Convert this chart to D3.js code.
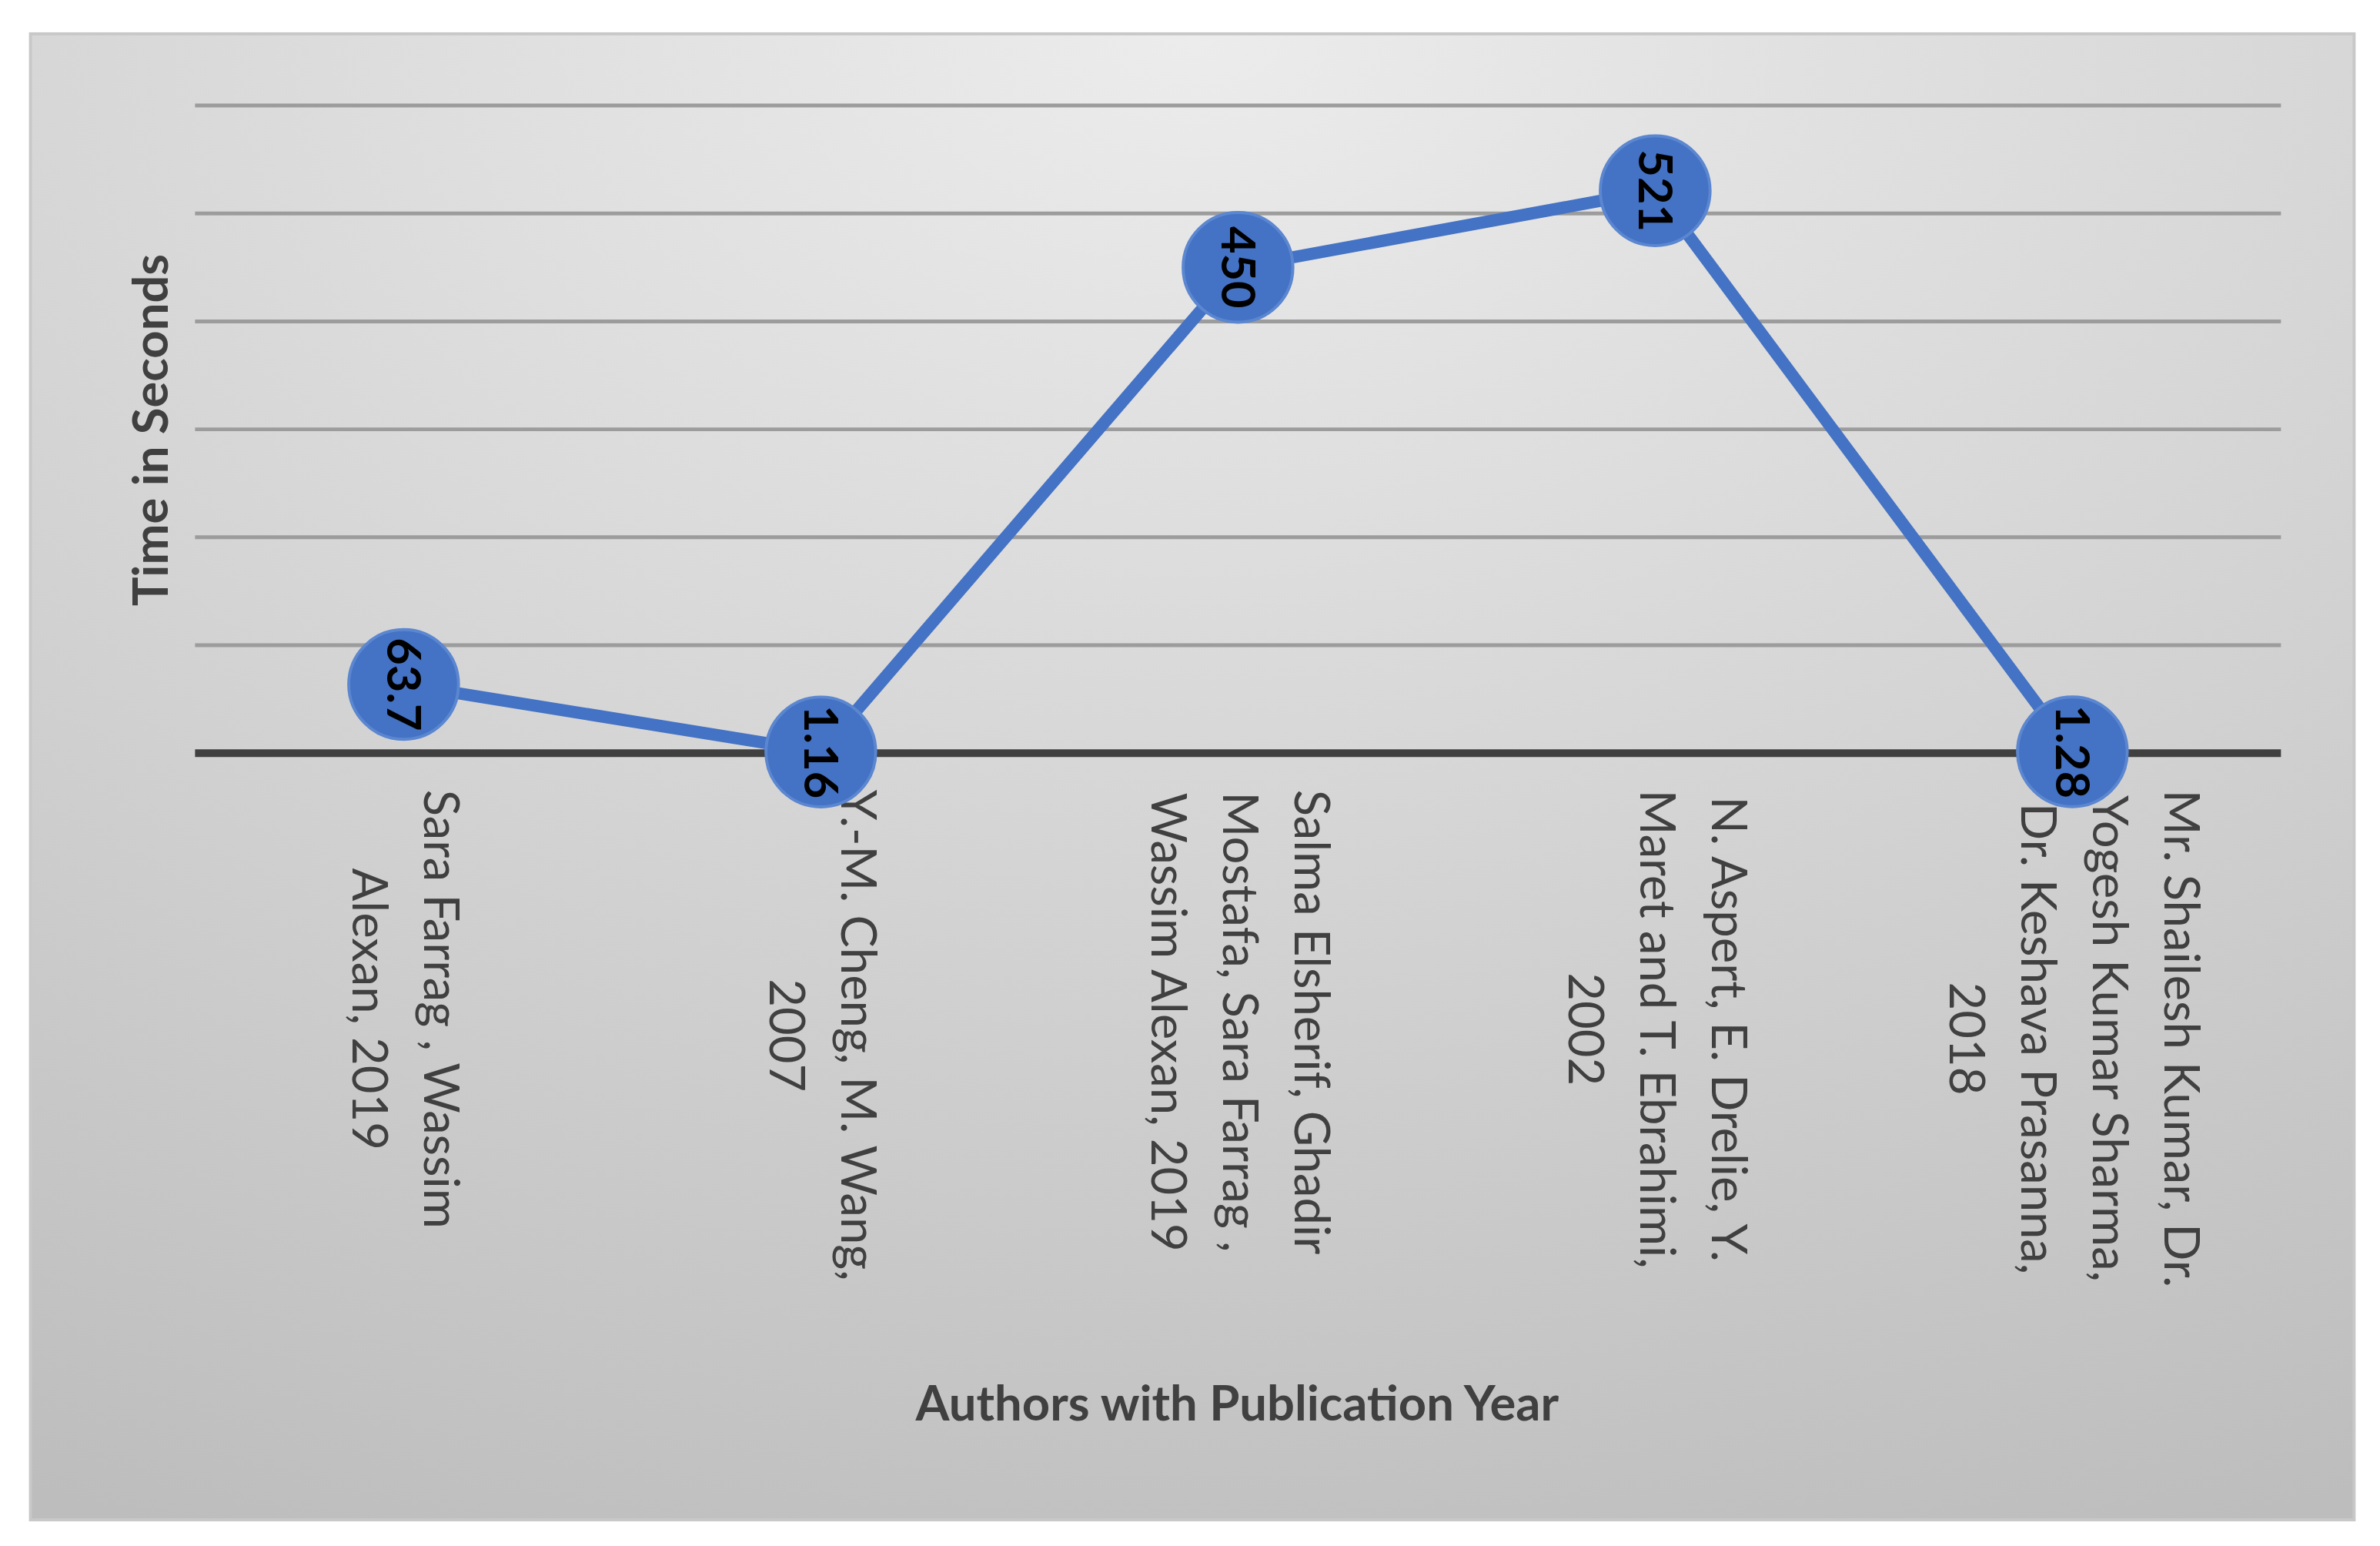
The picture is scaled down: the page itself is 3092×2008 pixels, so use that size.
<!DOCTYPE html>
<html><head><meta charset="utf-8">
<script src="https://cdn.jsdelivr.net/npm/d3@7"></script>
<style>body{margin:0;background:#fff}</style>
</head><body>
<svg id="chart" width="3092" height="2008" viewBox="0 0 1562 1014"></svg>
<script>
// data
var categories = [
    ["Sara Farrag , Wassim", "Alexan, 2019"],
    ["Y.-M. Cheng, M. Wang,", "2007"],
    ["Salma Elsherif, Ghadir", "Mostafa, Sara Farrag ,", "Wassim Alexan, 2019"],
    ["N. Aspert, E. Drelie, Y.", "Maret and T. Ebrahimi,", "2002"],
    ["Mr. Shailesh Kumar, Dr.", "Yogesh Kumar Sharma,", "Dr. Keshava Prasanna,", "2018"]
];
var values = [63.7, 1.16, 450, 521, 1.28];
var valueLabels = ["63.7", "1.16", "450", "521", "1.28"];
var yTicks = [0, 100, 200, 300, 400, 500, 600];

var svg = d3.select("#chart");
var font = "Lato, 'Open Sans', sans-serif";

var defs = svg.append("defs");
var grad = defs.append("radialGradient").attr("id", "bg")
    .attr("cx", "50%").attr("cy", "0%").attr("r", "110%");
grad.append("stop").attr("offset", "0%").attr("stop-color", "#ececec");
grad.append("stop").attr("offset", "100%").attr("stop-color", "#bdbdbd");

svg.append("rect").attr("x", 20).attr("y", 22).attr("width", 1525).attr("height", 975)
    .attr("fill", "url(#bg)").attr("stroke", "#c8c8c8").attr("stroke-width", 2);

var x = d3.scaleBand().domain(d3.range(categories.length)).range([128, 1497]);
var y = d3.scaleLinear().domain([0, 600]).range([494, 69]);

// gridlines
svg.selectAll(".grid").data(yTicks.slice(1)).enter().append("line")
    .attr("x1", 128).attr("x2", 1497)
    .attr("y1", function (d) { return y(d); }).attr("y2", function (d) { return y(d); })
    .attr("stroke", "#9c9c9c").attr("stroke-width", 2.5);

svg.append("line").attr("x1", 128).attr("x2", 1497).attr("y1", y(0)).attr("y2", y(0))
    .attr("stroke", "#404040").attr("stroke-width", 5);

// category labels, rotated, centred as a block
categories.forEach(function (lines, i) {
    var cx = x(i) + x.bandwidth() / 2;
    var n = lines.length, gap = 47;
    var g = svg.append("g");
    var texts = g.selectAll("text").data(lines).enter().append("text")
        .attr("font-family", font).attr("font-size", 32).attr("fill", "#404040")
        .attr("text-anchor", "middle").text(function (d) { return d; });
    var maxLen = d3.max(texts.nodes(), function (t) { return t.getComputedTextLength(); });
    var cy = 518 + maxLen / 2;
    texts.attr("transform", function (d, j) {
        var lx = cx + ((n - 1) / 2 - j) * gap - 10;
        return "translate(" + lx + "," + cy + ") rotate(90)";
    });
});

// line
var line = d3.line().x(function (d, i) { return x(i) + x.bandwidth() / 2; })
    .y(function (d) { return y(d); });
svg.append("path").datum(values).attr("d", line)
    .attr("fill", "none").attr("stroke", "#4472C4").attr("stroke-width", 8);

var pts = svg.selectAll(".pt").data(values).enter().append("g")
    .attr("transform", function (d, i) { return "translate(" + (x(i) + x.bandwidth() / 2) + "," + y(d) + ")"; });
pts.append("circle").attr("r", 36).attr("fill", "#4472C4").attr("stroke", "#5b86d0").attr("stroke-width", 2);
pts.append("text").attr("transform", "rotate(90)")
    .attr("text-anchor", "middle").attr("dy", "0.35em")
    .attr("font-family", font).attr("font-weight", "bold").attr("font-size", 31).attr("fill", "#000")
    .text(function (d, i) { return valueLabels[i]; });

// axis titles
svg.append("text").attr("transform", "translate(110,282) rotate(-90)")
    .attr("text-anchor", "middle").attr("font-family", font).attr("font-weight", "bold")
    .attr("font-size", 32).attr("fill", "#404040").text("Time in Seconds");
svg.append("text").attr("x", 812).attr("y", 932)
    .attr("text-anchor", "middle").attr("font-family", font).attr("font-weight", "bold")
    .attr("font-size", 32).attr("fill", "#404040").text("Authors with Publication Year");
</script>
</body></html>
